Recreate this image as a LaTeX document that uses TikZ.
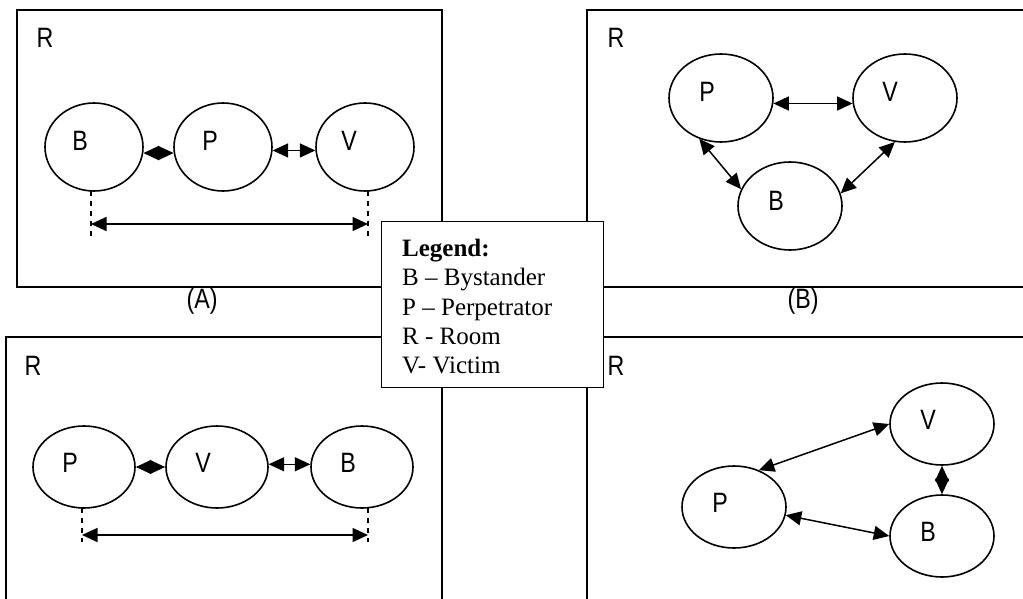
\documentclass[tikz,border=0pt]{standalone}
\usepackage{graphicx}
\usepackage{fontspec}
\setmainfont{Liberation Serif}
\newfontfamily\lsans{Liberation Sans}
\usetikzlibrary{arrows.meta,shapes.geometric}

% condensed sans lettering used for the room and person labels
\newcommand{\narrowtext}[1]{\scalebox{0.83}[1]{#1}}

\tikzset{
  room/.style={line width=1.8pt},
  person/.style={draw, ellipse, line width=1.6pt, inner sep=0pt},
  letter/.style={inner sep=0pt, font=\lsans\fontsize{28}{32}\selectfont},
  rlabel/.style={inner sep=0pt, font=\lsans\fontsize{28}{32}\selectfont},
  link/.style={line width=1.5pt, {Triangle[length=15.5pt,width=14pt]}-{Triangle[length=15.5pt,width=14pt]}},
  guide/.style={line width=1.4pt, dash pattern=on 5pt off 5pt},
  legline/.style={inner sep=0pt, anchor=base west, font=\fontsize{25}{29}\selectfont},
}

\begin{document}
\begin{tikzpicture}[x=1pt, y=-1pt]
\useasboundingbox (0,0) rectangle (1023,599);

% ---- the four rooms ----
\draw[room] (17,10) rectangle (442,287);
\draw[room] (587,10) rectangle (1040,287);
\draw[room] (6,337) rectangle (442,615);
\draw[room] (587,337) rectangle (1040,615);

\node[rlabel] (rA) at (45,38) {\narrowtext{R}};
\node[rlabel] (rB) at (616,38) {\narrowtext{R}};
\node[rlabel] (rC) at (33,366) {\narrowtext{R}};
\node[rlabel] (rD) at (616,366) {\narrowtext{R}};

\node[rlabel] (capA) at (202,301) {\narrowtext{(A)}};
\node[rlabel] (capB) at (803,301) {\narrowtext{(B)}};

% ---- room A: B - P - V in a row ----
\node[person, minimum width=98pt, minimum height=88pt] (aB) at (94,147) {};
\node[person, minimum width=98pt, minimum height=88pt] (aP) at (223,147) {};
\node[person, minimum width=98pt, minimum height=88pt] (aV) at (365,147) {};
\node[letter] (aBt) at ([shift={(-14,-6)}]aB.center) {\narrowtext{B}};
\node[letter] (aPt) at ([shift={(-13,-6)}]aP.center) {\narrowtext{P}};
\node[letter] (aVt) at ([shift={(-16,-6)}]aV.center) {\narrowtext{V}};
\draw[link] (aB.-7) -- (aP.187);
\draw[link] (aP.-4) -- (aV.184);
\coordinate (a1) at (91,191);
\coordinate (a2) at (368,191);
\coordinate (a1e) at (91,237);
\coordinate (a2e) at (368,237);
\coordinate (a1m) at (91,224);
\coordinate (a2m) at (368,224);
\draw[guide] (a1) -- (a1e);
\draw[guide] (a2) -- (a2e);
\draw[link] (a1m) -- (a2m);

% ---- room B: triangle ----
\node[person, minimum width=104pt, minimum height=88pt] (bP) at (721,98) {};
\node[person, minimum width=104pt, minimum height=88pt] (bV) at (905,98) {};
\node[person, minimum width=104pt, minimum height=88pt] (bB) at (790,206) {};
\node[letter] (bPt) at ([shift={(-14,-6)}]bP.center) {\narrowtext{P}};
\node[letter] (bVt) at ([shift={(-15,-6)}]bV.center) {\narrowtext{V}};
\node[letter] (bBt) at ([shift={(-14,-5)}]bB.center) {\narrowtext{B}};
\draw[link] (bP.-6) -- (bV.186);
\draw[link] (bP.-118) -- (bB.161);
\draw[link] (bV.-103) -- (bB.14);

% ---- room C: P - V - B in a row ----
\node[person, minimum width=102pt, minimum height=82pt] (cP) at (84,467) {};
\node[person, minimum width=102pt, minimum height=82pt] (cV) at (217,467) {};
\node[person, minimum width=102pt, minimum height=82pt] (cB) at (362,467) {};
\node[letter] (cPt) at ([shift={(-14,-4)}]cP.center) {\narrowtext{P}};
\node[letter] (cVt) at ([shift={(-14,-4)}]cV.center) {\narrowtext{V}};
\node[letter] (cBt) at ([shift={(-14,-4)}]cB.center) {\narrowtext{B}};
\draw[link] (cP.east) -- (cV.west);
\draw[link] (cV.3) -- (cB.177);
\coordinate (c1) at (82,508);
\coordinate (c2) at (368,508);
\coordinate (c1e) at (82,542);
\coordinate (c2e) at (368,542);
\coordinate (c1m) at (82,535);
\coordinate (c2m) at (368,535);
\draw[guide] (c1) -- (c1e);
\draw[guide] (c2) -- (c2e);
\draw[link] (c1m) -- (c2m);

% ---- room D: V above B, P to the left ----
\node[person, minimum width=104pt, minimum height=82pt] (dV) at (942,424) {};
\node[person, minimum width=104pt, minimum height=82pt] (dP) at (734,507) {};
\node[person, minimum width=104pt, minimum height=82pt] (dB) at (942,536) {};
\node[letter] (dVt) at ([shift={(-14,-4)}]dV.center) {\narrowtext{V}};
\node[letter] (dPt) at ([shift={(-14,-4)}]dP.center) {\narrowtext{P}};
\node[letter] (dBt) at ([shift={(-14,-4)}]dB.center) {\narrowtext{B}};
\draw[link] (dV.west) -- (dP.56);
\draw[link] (dP.-9) -- (dB.west);
\draw[link] (dV.south) -- (dB.north);

% ---- legend ----
\node[draw, fill=white, line width=1.4pt, minimum width=222pt, minimum height=166pt,
      anchor=north west, inner sep=0pt] (legend) at (381,221) {};
\node[legline] (leg0) at (402,256) {\textbf{Legend:}};
\node[legline] (leg1) at (402,285) {B – Bystander};
\node[legline] (leg2) at (402,315) {P – Perpetrator};
\node[legline] (leg3) at (402,344) {R - Room};
\node[legline] (leg4) at (402,373) {V- Victim};
\end{tikzpicture}
\end{document}
